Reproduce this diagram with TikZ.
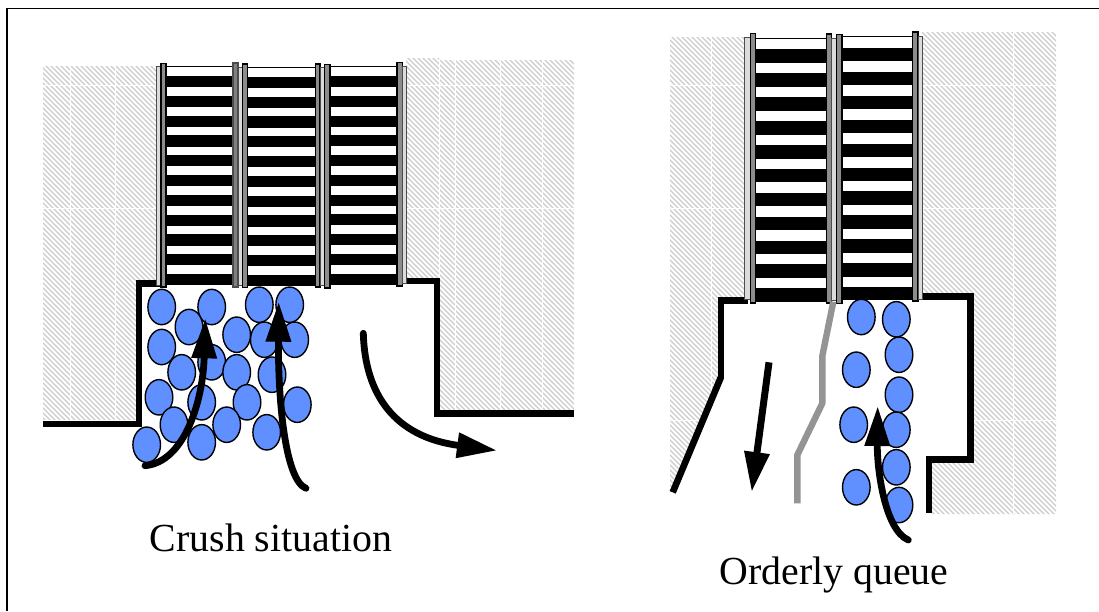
\documentclass[tikz,border=0pt]{standalone}
\usepackage{fontspec}
\setmainfont{Liberation Serif}
\usetikzlibrary{arrows.meta}
\tikzset{
  wall/.style={line width=6.6pt,line join=miter,draw=black},
  divider/.style={line width=6.4pt,draw=black!42},
  railD/.style={fill=black!45,draw=black,line width=1.2pt},
  railL/.style={fill=black!14,draw=black!70,line width=.9pt},
  stripe/.style={fill=black,draw=none},
  person/.style={fill=personblue,draw=black,line width=1.4pt},
  flow/.style={line width=6.8pt,line cap=round,-{Triangle[length=40pt,width=24pt,sep=0pt]}},
  hatchline/.style={draw=black!20,line width=1.1pt},
  gridline/.style={draw=white,line width=.5pt},
  caption/.style={font=\fontsize{39.8}{44}\selectfont,inner sep=0pt}
}
\definecolor{personblue}{HTML}{6090FF}
\newcommand{\hatchfill}[1]{%
  \begin{scope}
    \clip #1;
    \foreach \d in {-620,-615,...,1100} {\draw[hatchline] (\d,0) -- ++(620,620);}
    \foreach \gx in {70,115,439,455,500,542,711,1013} {\draw[gridline] (\gx,0) -- (\gx,611);}
    \foreach \gy in {85,208,420} {\draw[gridline] (0,\gy) -- (1099,\gy);}
  \end{scope}}
% left x, right x, top y, first stripe y, period, stripe height
\newcommand{\stepcol}[6]{%
  \fill[white] (#1,#3) rectangle (#2,#4+10*#5+#6);
  \draw[black,line width=1pt] (#1,#3) -- (#2,#3);
  \foreach \k in {0,...,10} {\fill[stripe] (#1,{#4+\k*#5}) rectangle (#2,{#4+\k*#5+#6});}}
\begin{document}
\begin{tikzpicture}[x=1pt,y=-1pt]
\useasboundingbox (0,0) rectangle (1099,611);
\fill[white] (0,0) rectangle (1099,611);
% frame
\draw[black,line width=1.2pt] (7,611) -- (7,8.5) -- (1099,8.5);
% hatching
\hatchfill{(43,66) -- (157,66) -- (157,281) -- (138,281) -- (138,424) -- (43,424) -- cycle}
\hatchfill{(406,58) -- (439,58) -- (439,60) -- (574,60) -- (574,413) -- (437,413) -- (437,281) -- (406,281) -- cycle}
\hatchfill{(670,37) -- (745,37) -- (745,298) -- (721,298) -- (721,377) -- (672,492) -- (670,492) -- cycle}
\hatchfill{(922,32) -- (1056,32) -- (1056,514) -- (929,514) -- (929,460) -- (971,460) -- (971,297) -- (922,297) -- cycle}
% left escalators
\stepcol{166}{233}{66.5}{76}{19.8}{11.2}
\stepcol{247}{316}{67.5}{76.7}{19.8}{11.2}
\stepcol{330}{397}{66}{76}{19.75}{11.2}
% right escalators
\stepcol{756}{827}{38}{49.3}{23.9}{13.6}
\stepcol{842}{913}{36.7}{48}{23.9}{13.4}
% walls
\draw[wall] (43,424) -- (138.8,424) -- (138.8,283.7) -- (162,283.7);
\draw[wall] (406,281) -- (437,281) -- (437,413.3) -- (574,413.3);
\draw[wall] (672.7,492.3) -- (721,377);
\draw[wall] (721,378) -- (721,300.6) -- (748,300.6);
\draw[wall] (918,296.7) -- (970.7,296.7) -- (970.7,459.7) -- (929,459.7) -- (929,512.7);
% left rails
\draw[railL] (156,66.5) rectangle (161,285);
\draw[railD] (161,63.5) rectangle (166,287);
\draw[railD,fill=black!50,draw=black!70] (233,63) rectangle (238,287);
\draw[railL] (238,67) rectangle (242.3,285);
\draw[railD] (242.3,64) rectangle (247.5,287.5);
\draw[railD] (315.3,64) rectangle (320,287);
\draw[railL] (320,67) rectangle (324.5,285);
\draw[railD] (324.5,64.5) rectangle (330,288);
\draw[railD] (397,62.5) rectangle (402.3,286);
\draw[railL] (402.3,66) rectangle (406.5,283);
% right rails
\draw[railL] (744.3,37) rectangle (750,299);
\draw[railD] (750.3,33.5) rectangle (755.8,303);
\draw[railD] (826.5,34) rectangle (831.5,303);
\draw[railL] (831.5,38) rectangle (836.7,300);
\draw[railD] (836.7,34.5) rectangle (842,303.5);
\draw[railD] (912.5,32) rectangle (918,301);
\draw[railL] (918,36) rectangle (922.3,299);
% divider
\draw[divider,line join=bevel] (833.3,301.7) -- (822.3,356) -- (822.3,403.3) -- (797.3,455) -- (797.3,503.3);
% people, left
\foreach \px/\py in {161.7/307,211.7/307,259.3/304.7,294.7/339.7,289.7/304.7,264.3/339.7,189/327,236.7/334.7,161.7/347,211.7/362.3,181.7/372.3,272/374.7,297.3/404.7,236.7/372.3,201.7/402.3,247/402.3,159/397.3,174/424.7,226.7/424.7,266.7/432.3,146.7/444.7,201.7/442.3}
  {\draw[person] (\px,\py) ellipse [x radius=13.8,y radius=17.7];}
% people, right
\foreach \px/\py in {861.3/317,896.3/319.3,899/354.7,856.3/369.7,899/394.7,853.7/424.7,896.3/429.7,896.3/467.3,856.3/487.3,899/505}
  {\draw[person] (\px,\py) ellipse [x radius=13.8,y radius=17.7];}
% flow arrows
\draw[flow] (145,465.7) .. controls (185,462) and (203,400) .. (205.3,318.3);
\draw[flow] (306,488.3) .. controls (285,480) and (278,400) .. (278.7,301.7);
\draw[flow] (363.3,333.3) .. controls (365,395) and (395,437) .. (497,450.5);
\draw[flow,line width=7pt,line cap=butt] (769,362.3) -- (751.7,492);
\draw[flow] (908.3,540) .. controls (885,530) and (877,470) .. (877.7,406);
% captions
\node[caption] (crush) at (271,537.5) {Crush situation};
\node[caption] (queue) at (834,574.5) {Orderly queue};
\end{tikzpicture}
\end{document}
